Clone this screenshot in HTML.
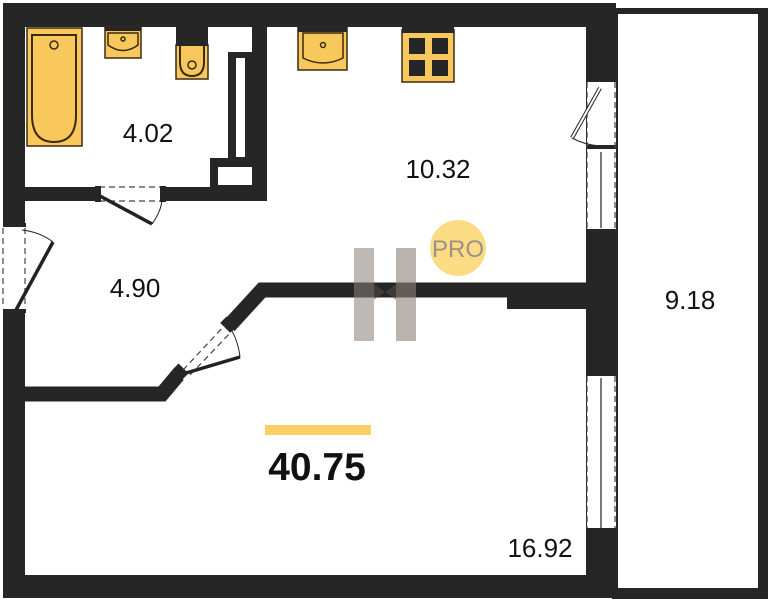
<!DOCTYPE html>
<html><head><style>
html,body{margin:0;padding:0;background:#fff;}
svg{display:block}
text{font-family:"Liberation Sans",sans-serif;}
</style></head><body>
<svg width="769" height="600" viewBox="0 0 769 600" xmlns="http://www.w3.org/2000/svg">
<rect width="769" height="600" fill="#fff"/>
<!-- balcony -->
<rect x="612" y="8" width="156" height="591" fill="#262626"/>
<rect x="618" y="14" width="140" height="574" fill="#fff"/>
<!-- outer walls -->
<rect x="3" y="3" width="612" height="24" fill="#262626"/>
<rect x="3" y="3" width="22" height="595" fill="#262626"/>
<rect x="3" y="575" width="612" height="23" fill="#262626"/>
<rect x="586" y="3" width="30" height="595" fill="#262626"/>
<!-- openings in right wall -->
<rect x="587" y="80" width="29" height="152" fill="#fff"/>
<rect x="587" y="373" width="29" height="157" fill="#fff"/>
<rect x="586" y="78" width="30" height="4" fill="#262626"/>
<rect x="586" y="145" width="30" height="4" fill="#262626"/>
<rect x="586" y="229" width="30" height="4" fill="#262626"/>
<rect x="586" y="372" width="30" height="4" fill="#262626"/>
<rect x="586" y="528" width="30" height="4" fill="#262626"/>
<g stroke="#444" stroke-dasharray="6,4" stroke-width="1.2" fill="none">
<line x1="587" y1="82" x2="587" y2="230"/><line x1="615" y1="82" x2="615" y2="230"/>
<line x1="587" y1="376" x2="587" y2="528"/><line x1="615" y1="376" x2="615" y2="528"/>
</g>
<line x1="601" y1="152" x2="601" y2="228" stroke="#222" stroke-width="1.2"/>
<line x1="601" y1="378" x2="601" y2="528" stroke="#222" stroke-width="1.2"/>
<line x1="600" y1="88" x2="572" y2="138" stroke="#222" stroke-width="4"/>
<line x1="600" y1="88" x2="572" y2="138" stroke="#fff" stroke-width="2"/>
<path d="M572 138 Q585 145 600 146" stroke="#222" fill="none"/>
<!-- left wall door -->
<rect x="3" y="225" width="22" height="87" fill="#fff"/>
<rect x="3" y="223" width="23" height="4" fill="#262626"/>
<rect x="3" y="309" width="23" height="4" fill="#262626"/>
<g stroke="#444" stroke-dasharray="6,4" stroke-width="1.2"><line x1="3" y1="228" x2="3" y2="308"/><line x1="25" y1="228" x2="25" y2="308"/></g>
<line x1="16" y1="310" x2="53" y2="242" stroke="#222" stroke-width="3.5"/>
<path d="M53 242 Q40 232 22 230" stroke="#222" fill="none"/>
<!-- bathroom walls -->
<rect x="25" y="187" width="242" height="14" fill="#262626"/>
<rect x="252" y="27" width="15" height="174" fill="#262626"/>
<rect x="228" y="52" width="24" height="108" fill="#262626"/>
<rect x="236" y="58" width="9" height="99" fill="#fff"/>
<rect x="210" y="158" width="42" height="29" fill="#262626"/>
<rect x="218" y="167" width="34" height="18" fill="#fff"/>
<!-- bath door -->
<rect x="99" y="187" width="64" height="14" fill="#fff"/>
<g stroke="#444" stroke-dasharray="6,4" stroke-width="1.2"><line x1="99" y1="187" x2="163" y2="187"/><line x1="99" y1="201" x2="163" y2="201"/></g>
<rect x="95" y="186" width="6" height="16" fill="#262626"/>
<rect x="160" y="186" width="6" height="16" fill="#262626"/>
<line x1="100" y1="196" x2="152" y2="224" stroke="#222" stroke-width="3.5"/>
<path d="M152 224 Q162 210 162 198" stroke="#222" fill="none"/>
<!-- middle walls -->
<polyline points="25,394 162,394 178,375" stroke="#262626" stroke-width="15" fill="none"/>
<polyline points="229,326 262,290 586,290" stroke="#262626" stroke-width="15" fill="none"/>
<rect x="507" y="296" width="80" height="13" fill="#262626"/>
<rect x="176" y="365" width="9" height="14" fill="#262626" transform="rotate(-45 180 372)"/>
<rect x="224" y="318" width="9" height="14" fill="#262626" transform="rotate(-45 228 325)"/>
<g stroke="#444" stroke-dasharray="6,4" stroke-width="1.2"><line x1="183" y1="370" x2="225" y2="325"/><line x1="190" y1="375" x2="233" y2="330"/></g>
<line x1="186" y1="373" x2="240" y2="357" stroke="#222" stroke-width="3.5"/>
<path d="M240 357 Q238 340 230 328" stroke="#222" fill="none"/>
<!-- fixtures -->
<g fill="#f9c85c" stroke="#3a2a10" stroke-width="1.5">
<rect x="27" y="28" width="55" height="118"/>
<path d="M32 35 H76 V115 Q76 142 54 142 Q32 142 32 115 Z" fill="none" stroke-width="2"/>
<circle cx="54" cy="45" r="4" fill="none"/>
<rect x="105" y="27" width="36" height="31"/>
<path d="M108 33 H138 V45 Q123 56 108 45 Z" fill="none"/>
<circle cx="123" cy="39" r="2" fill="none"/>
<rect x="176" y="45" width="32" height="34"/>
<path d="M180 46 V62 Q180 76 192 76 Q204 76 204 62 V46" fill="none" stroke-width="2"/>
<circle cx="192" cy="65" r="4" fill="none"/>
<rect x="298" y="27" width="49" height="43"/>
<path d="M303 33 H343 V58 Q323 68 303 58 Z" fill="none"/>
<circle cx="323" cy="45" r="2.5" fill="none"/>
<rect x="402" y="30" width="52" height="52"/>
</g>
<rect x="176" y="27" width="32" height="19" fill="#262626"/>
<rect x="105" y="27" width="36" height="4" fill="#262626"/>
<rect x="298" y="27" width="49" height="5" fill="#262626"/>
<rect x="402" y="27" width="52" height="6" fill="#262626"/>
<g fill="#262626"><rect x="409" y="38" width="16" height="16"/><rect x="432" y="38" width="16" height="16"/><rect x="409" y="60" width="16" height="16"/><rect x="432" y="60" width="16" height="16"/></g>
<!-- logo -->
<rect x="354" y="248" width="20" height="93" fill="#8a8078" opacity="0.55"/>
<rect x="396" y="248" width="20" height="93" fill="#8a8078" opacity="0.6"/>
<polygon points="374,284 396,300 396,284 374,300" fill="#5a5048" opacity="0.5"/>
<circle cx="458" cy="248" r="28" fill="#fbdc84"/>
<text x="458" y="257" font-size="24" fill="#9a9285" text-anchor="middle">PRO</text>
<!-- labels -->
<g font-size="26" fill="#111" text-anchor="middle">
<text x="148" y="142">4.02</text>
<text x="438" y="178">10.32</text>
<text x="135" y="297">4.90</text>
<text x="690" y="309">9.18</text>
<text x="540" y="557">16.92</text>
</g>
<rect x="265" y="425" width="106" height="10" fill="#fbcf66"/>
<text x="317" y="480" font-size="39" font-weight="bold" fill="#111" text-anchor="middle">40.75</text>
</svg>
</body></html>
